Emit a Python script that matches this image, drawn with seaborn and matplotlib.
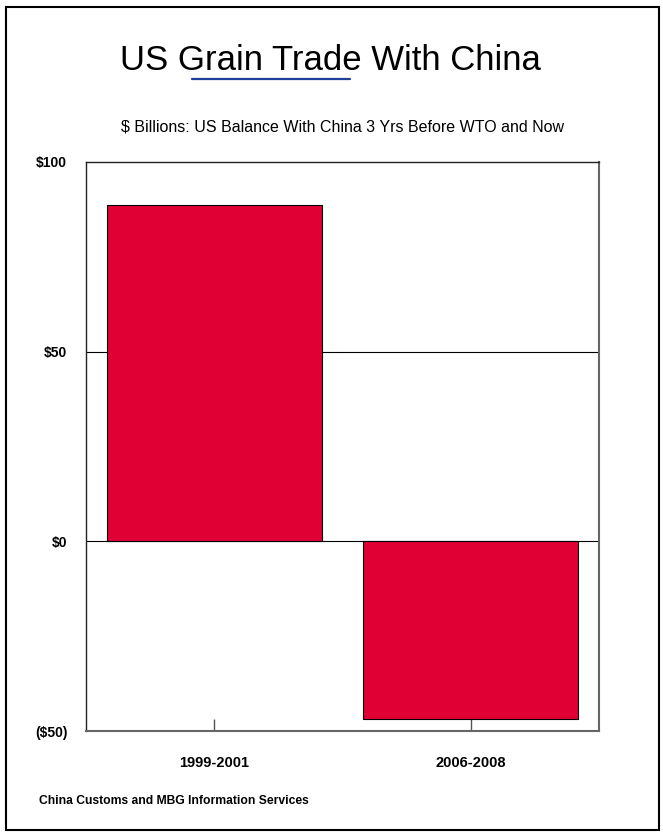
import matplotlib
matplotlib.use("Agg")
import matplotlib.pyplot as plt
import seaborn as sns
import pandas as pd
from matplotlib.lines import Line2D
from matplotlib.patches import Rectangle

# chart data
periods = ["1999-2001", "2006-2008"]
balance = [88.7, -46.8]
y_ticks = [-50, 0, 50, 100]
y_tick_labels = ["($50)", "$0", "$50", "$100"]

df = pd.DataFrame({"period": periods, "balance": balance})

sns.set_theme(style="white")
plt.rcParams["font.family"] = ["Liberation Sans", "DejaVu Sans"]

fig = plt.figure(figsize=(6.63, 8.36), dpi=100)
W, H = 663, 836
ax = fig.add_axes([86 / W, 1 - 731 / H, (599 - 86) / W, (731 - 162) / H])

sns.barplot(data=df, x="period", y="balance", color="#E00034", width=0.84,
            edgecolor="black", linewidth=0.8, saturation=1, ax=ax, zorder=3)

ax.set_ylim(-50, 100)
ax.set_xlim(-0.5, 1.5)
ax.set_yticks(y_ticks)
ax.set_yticklabels(y_tick_labels, fontsize=10, fontweight="bold", color="black")
ax.tick_params(axis="y", length=0, pad=13.5)
ax.tick_params(axis="x", bottom=True, direction="in", length=9, width=1,
               color="#555555", labelsize=10.5, labelcolor="black", pad=18)
for lab in ax.get_xticklabels():
    lab.set_fontweight("bold")
ax.set_xlabel("")
ax.set_ylabel("")
for v in [0, 50]:
    ax.axhline(v, color="black", lw=0.8, zorder=1)
for name, s in ax.spines.items():
    s.set_visible(True)
    if name in ("left", "top"):
        s.set_color("#222222")
        s.set_linewidth(1.0)
    else:
        s.set_color("#666666")
        s.set_linewidth(1.5)

# outer frame
fig.patches.append(Rectangle((6 / W, 6 / H), (659 - 6) / W, (829 - 6) / H,
                             transform=fig.transFigure, fill=False,
                             edgecolor="black", lw=1.5))

fig.text(330 / W, 1 - 60 / H, "US Grain Trade With China", ha="center", va="center",
         fontsize=25, color="black")
fig.add_artist(Line2D([192 / W, 350 / W], [1 - 79 / H, 1 - 79 / H],
                      color="#1F3F99", lw=1.6, transform=fig.transFigure))
fig.text(342 / W, 1 - 127 / H, "$ Billions: US Balance With China 3 Yrs Before WTO and Now",
         ha="center", va="center", fontsize=11.5, color="black")
fig.text(39 / W, 1 - 801 / H, "China Customs and MBG Information Services",
         ha="left", va="center", fontsize=8.7, fontweight="bold", color="black")

fig.savefig("out.png", dpi=100)
